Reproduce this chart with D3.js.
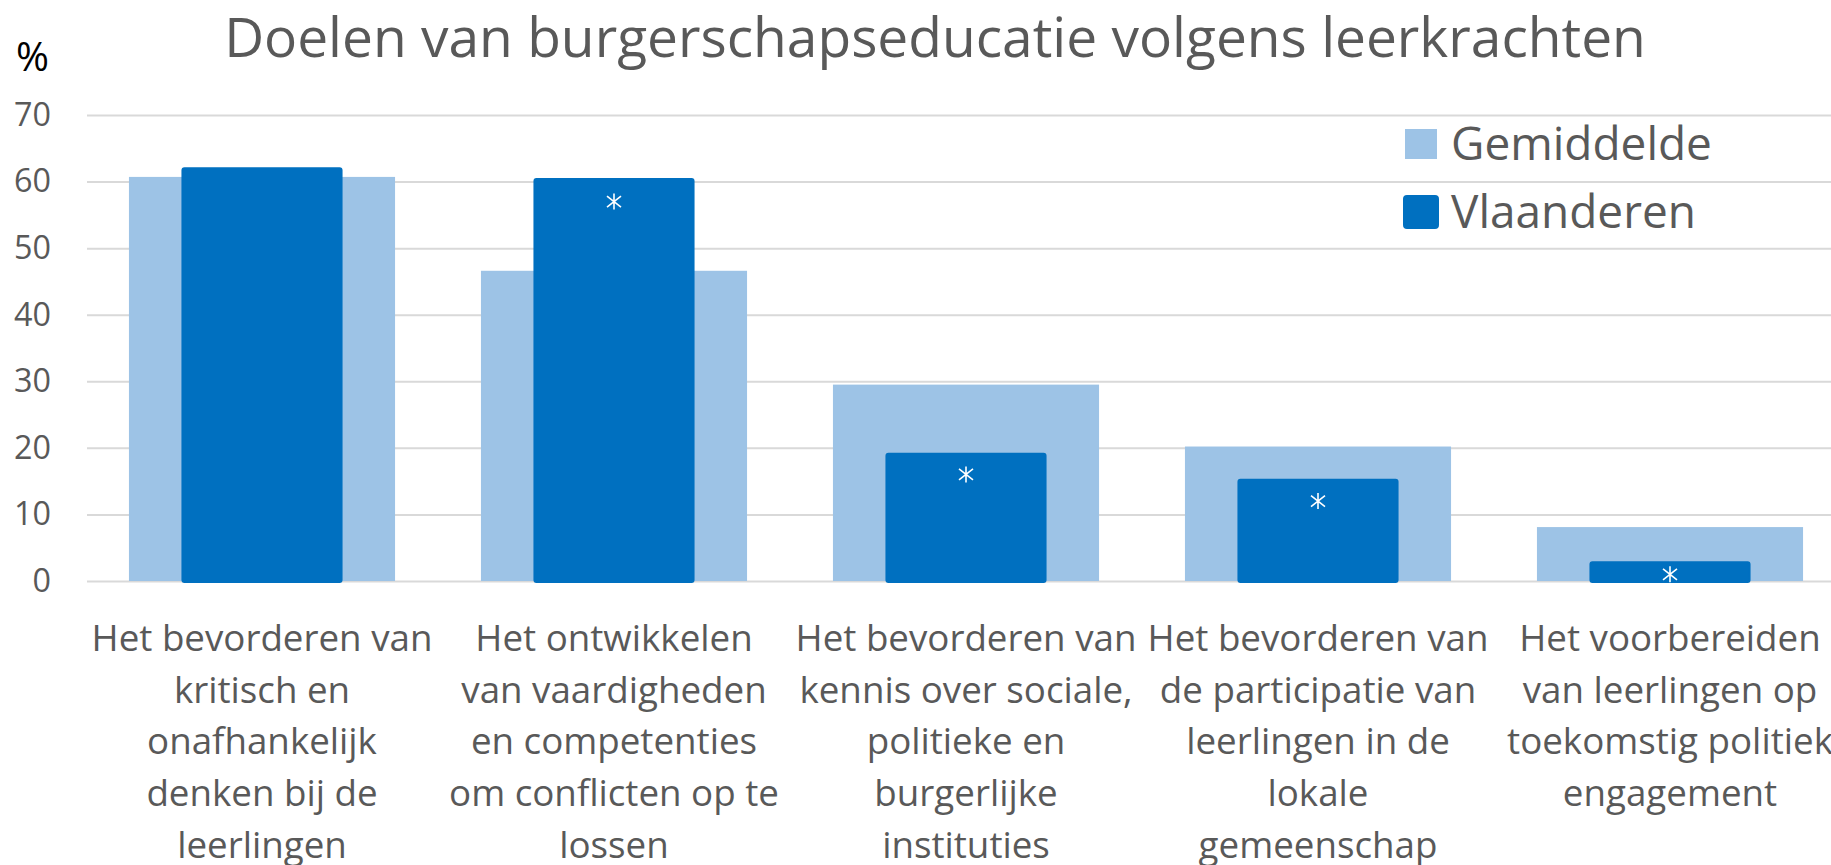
<!DOCTYPE html>
<html>
<head>
<meta charset="utf-8">
<script src="https://cdn.jsdelivr.net/npm/d3@7"></script>
<style>
  body { margin: 0; background: #fff; }
  svg { display: block; font-family: 'Open Sans', sans-serif; }
</style>
</head>
<body>
<svg id="chart"></svg>
<script>
const categories = [
  ['Het bevorderen van', 'kritisch en', 'onafhankelijk', 'denken bij de', 'leerlingen'],
  ['Het ontwikkelen', 'van vaardigheden', 'en competenties', 'om conflicten op te', 'lossen'],
  ['Het bevorderen van', 'kennis over sociale,', 'politieke en', 'burgerlijke', 'instituties'],
  ['Het bevorderen van', 'de participatie van', 'leerlingen in de', 'lokale', 'gemeenschap'],
  ['Het voorbereiden', 'van leerlingen op', 'toekomstig politiek', 'engagement'],
];
const gemiddelde = [60.7, 46.6, 29.5, 20.2, 8.1];
const vlaanderen = [62.0, 60.4, 19.1, 15.2, 2.8];
const significant = [null, 57, 16, 12, 1];
const yTicks = [0, 10, 20, 30, 40, 50, 60, 70];
const seriesNames = ['Gemiddelde', 'Vlaanderen'];

const W = 1831, H = 865;
const lightBlue = '#9DC3E6', darkBlue = '#0070C0', grey = '#595959';

const svg = d3.select('#chart').attr('width', W).attr('height', H);

// shrink/grow font so a text element hits a target width
function fitWidth(sel, target) {
  const size = parseFloat(sel.style('font-size'));
  const w = sel.node().getComputedTextLength();
  const s = size * target / w;
  sel.style('font-size', s + 'px');
  return s;
}

const idx = categories.map((d, i) => i);
const x = d3.scaleBand().domain(idx).range([86, 1846]).paddingInner(0.244).paddingOuter(0.122);
const y = d3.scaleLinear().domain([0, 70]).range([581, 115]);

// gridlines + y labels
const yAxis = svg.append('g')
  .attr('transform', 'translate(87,0)')
  .call(d3.axisLeft(y).tickValues(yTicks).tickSize(-(W - 87)).tickPadding(36));
yAxis.select('.domain').remove();
yAxis.selectAll('line').attr('stroke', '#D9D9D9').attr('stroke-width', 2);
const tickText = yAxis.selectAll('text')
  .attr('fill', grey).style('font-family', "'Open Sans', sans-serif").style('font-size', '32px');
const tickSize = fitWidth(yAxis.selectAll('.tick').filter(d => d === 70).select('text'), 37);
tickText.style('font-size', tickSize + 'px');

// light bars
svg.selectAll('.gem').data(gemiddelde).enter().append('rect')
  .attr('class', 'gem')
  .attr('x', (d, i) => x(i))
  .attr('width', x.bandwidth())
  .attr('y', d => y(d))
  .attr('height', d => y(0) - y(d))
  .attr('fill', lightBlue);

// dark bars
const darkW = x.step() * 0.452;
svg.selectAll('.vla').data(vlaanderen).enter().append('rect')
  .attr('class', 'vla')
  .attr('x', (d, i) => x(i) + x.bandwidth() / 2 - darkW / 2)
  .attr('width', darkW)
  .attr('y', d => y(d))
  .attr('height', d => y(0) - y(d) + 1)
  .attr('rx', 2)
  .attr('fill', darkBlue)
  .attr('stroke', darkBlue)
  .attr('stroke-width', 2);

// significance markers
const star = 'M0,-8V8M-7,-5.5L7,5.5M-7,5.5L7,-5.5';
svg.selectAll('.sig').data(significant.map((v, i) => ({ v, i })).filter(d => d.v != null))
  .enter().append('path')
  .attr('class', 'sig')
  .attr('transform', d => `translate(${x(d.i) + x.bandwidth() / 2},${y(d.v)})`)
  .attr('d', star)
  .attr('stroke', '#fff')
  .attr('stroke-width', 1.6)
  .attr('fill', 'none');

// category labels
const catG = svg.selectAll('.cat').data(categories).enter().append('text')
  .attr('class', 'cat')
  .attr('text-anchor', 'middle')
  .attr('fill', grey)
  .style('font-size', '32px');
catG.selectAll('tspan').data((d, i) => d.map(line => ({ line, i }))).enter().append('tspan')
  .attr('x', d => x(d.i) + x.bandwidth() / 2)
  .attr('y', (d, j) => 651 + j * 51.7)
  .text(d => d.line);
const probe = svg.append('text').style('font-size', '32px').text('Het bevorderen van');
const catSize = fitWidth(probe, 341);
probe.remove();
catG.style('font-size', catSize + 'px');

// title
const title = svg.append('text')
  .attr('x', 935).attr('y', 57)
  .attr('text-anchor', 'middle')
  .attr('fill', grey)
  .style('font-size', '52px')
  .text('Doelen van burgerschapseducatie volgens leerkrachten');
fitWidth(title, 1422);

// % unit
const pct = svg.append('text')
  .attr('x', 16).attr('y', 71)
  .attr('fill', '#000')
  .style('font-size', '36px')
  .text('%');
fitWidth(pct, 33);

// legend
const legend = svg.append('g');
legend.append('rect').attr('x', 1405).attr('y', 129).attr('width', 32).attr('height', 30).attr('fill', lightBlue);
legend.append('rect').attr('x', 1404).attr('y', 196).attr('width', 34).attr('height', 32).attr('rx', 3)
  .attr('fill', darkBlue).attr('stroke', darkBlue).attr('stroke-width', 2);
const legText = legend.selectAll('.leg').data(seriesNames).enter().append('text')
  .attr('class', 'leg')
  .attr('x', 1451)
  .attr('y', (d, i) => 160 + i * 68)
  .attr('fill', grey)
  .style('font-size', '44px')
  .text(d => d);
const legSize = fitWidth(legend.select('.leg'), 261);
legText.style('font-size', legSize + 'px');
</script>
</body>
</html>
